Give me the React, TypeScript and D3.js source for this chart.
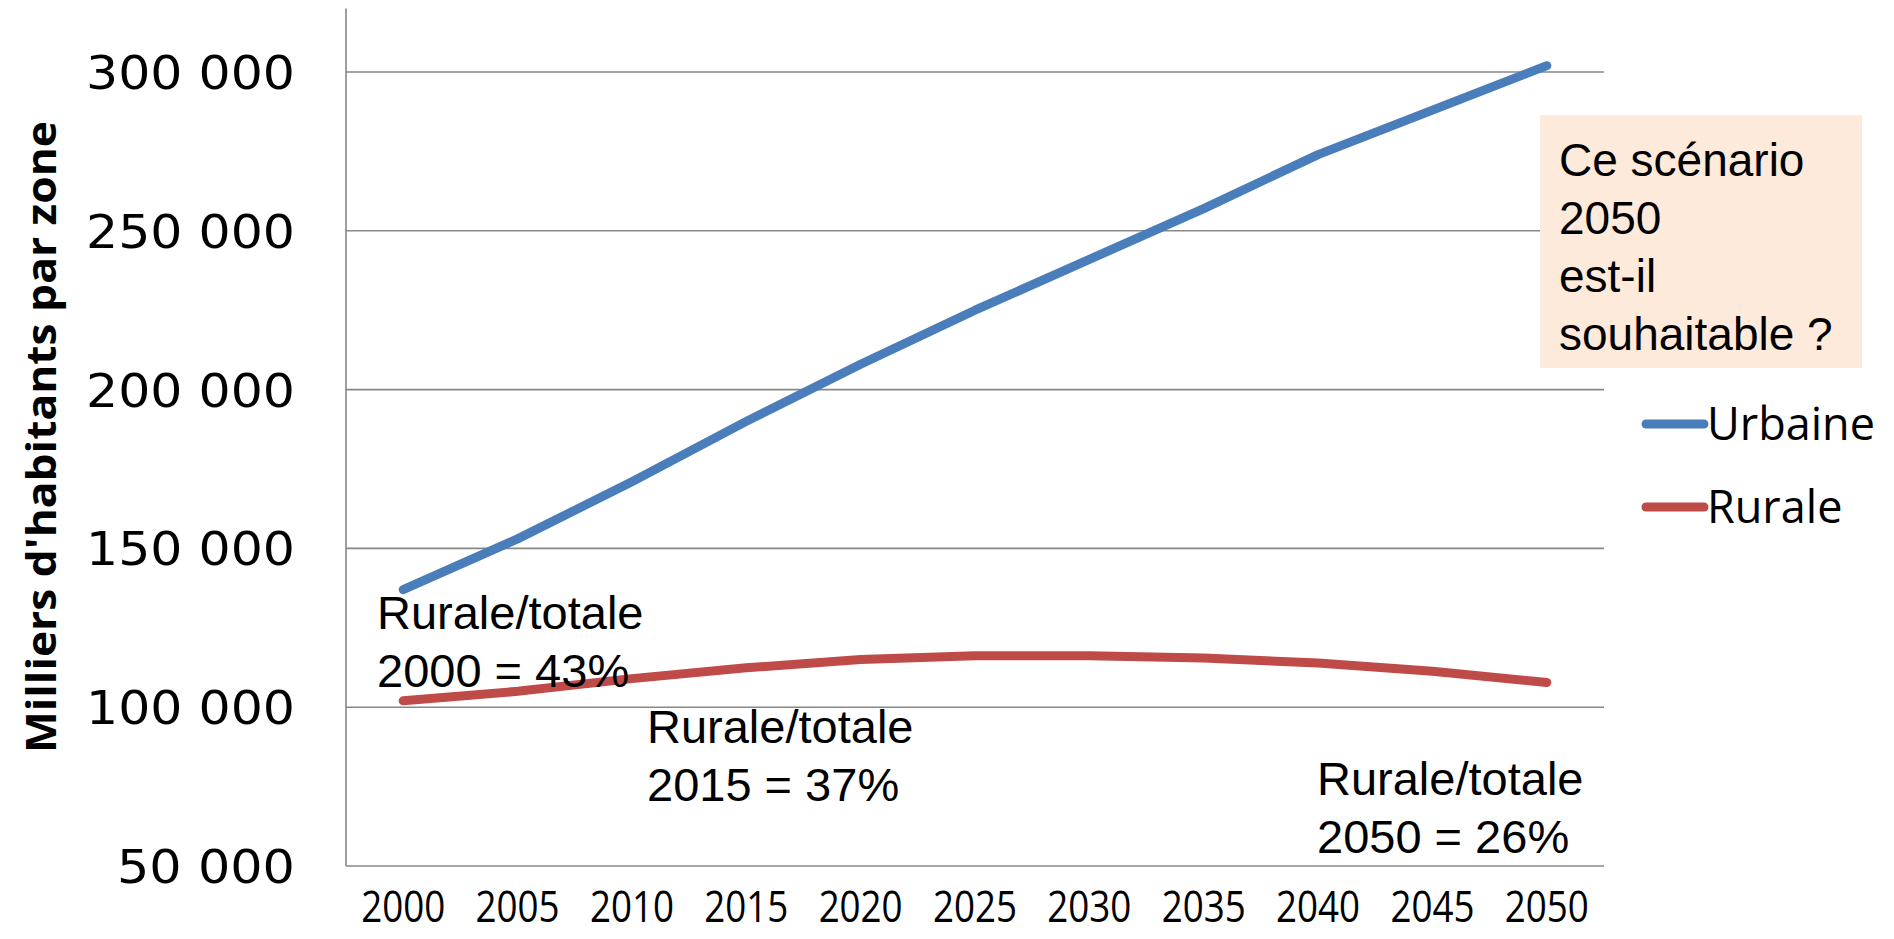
import React from "react";
import * as d3 from "d3";

const years = ["2000", "2005", "2010", "2015", "2020", "2025", "2030", "2035", "2040", "2045", "2050"];
const urbaine = [137000, 153000, 171000, 190000, 208000, 225000, 241000, 257000, 274000, 288000, 302000];
const rurale = [102000, 105000, 109000, 112400, 115000, 116200, 116200, 115500, 113900, 111300, 107800];
const yTicks = [50000, 100000, 150000, 200000, 250000, 300000];
const yDomain = [50000, 320000];

const series = [
  { name: "Urbaine", values: urbaine, color: "#4A7EBB" },
  { name: "Rurale", values: rurale, color: "#BE4B48" },
];

const notes = [
  { lines: ["Rurale/totale", "2000 = 43%"], x: 377, y: 629 },
  { lines: ["Rurale/totale", "2015 = 37%"], x: 647, y: 743 },
  { lines: ["Rurale/totale", "2050 = 26%"], x: 1317, y: 795 },
];

const boxLines = ["Ce scénario", "2050", "est-il", "souhaitable ?"];

export default function App() {
  const W = 1894, H = 939;
  const left = 346, right = 1604, top = 8.5, bottom = 866;
  const x = d3.scaleBand().domain(years).range([left, right]).paddingInner(0).paddingOuter(0);
  const y = d3.scaleLinear().domain(yDomain).range([bottom, top]);
  const cx = (d: string) => (x(d) as number) + x.bandwidth() / 2;
  const line = d3
    .line<number>()
    .x((_, i) => cx(years[i]))
    .y((v) => y(v));
  const fmt = (v: number) => d3.format(",")(v).replace(/,/g, " ");
  const armFont = "'Liberation Sans', Arial, sans-serif";
  const sansFont = "'Open Sans', sans-serif";

  return (
    <svg width={W} height={H} style={{ position: "absolute", left: 0, top: 0, background: "#fff" }}>
      {yTicks.map((t) => (
        <line key={t} x1={left} x2={right} y1={y(t)} y2={y(t)} stroke="#878787" strokeWidth={1.6} />
      ))}
      <line x1={left} x2={left} y1={top} y2={bottom} stroke="#878787" strokeWidth={1.6} />
      {yTicks.map((t) => {
        const s = fmt(t);
        return (
          <text
            key={t}
            x={295}
            y={y(t)}
            dy="0.36em"
            textAnchor="end"
            fontFamily="'DejaVu Sans', sans-serif"
            fontSize={47}
            textLength={s.length === 7 ? 209 : 178}
            lengthAdjust="spacingAndGlyphs"
            fill="#000"
          >
            {s}
          </text>
        );
      })}
      {years.map((yr) => (
        <text
          key={yr}
          x={cx(yr) - 42}
          y={922}
          fontFamily={sansFont}
          fontSize={43}
          textLength={84}
          lengthAdjust="spacingAndGlyphs"
          fill="#000"
        >
          {yr}
        </text>
      ))}
      <text
        transform={`translate(56, 437) rotate(-90)`}
        textAnchor="middle"
        fontFamily={sansFont}
        fontWeight="bold"
        fontSize={42}
        textLength={632}
        lengthAdjust="spacingAndGlyphs"
        fill="#000"
      >
        Milliers d'habitants par zone
      </text>
      {series.map((s) => (
        <path
          key={s.name}
          d={line(s.values) as string}
          fill="none"
          stroke={s.color}
          strokeWidth={9}
          strokeLinecap="round"
          strokeLinejoin="round"
        />
      ))}
      {notes.map((n, i) => (
        <text key={i} fontFamily={armFont} fontSize={47} fill="#000">
          {n.lines.map((l, j) => (
            <tspan key={j} x={n.x} y={n.y + j * 58}>
              {l}
            </tspan>
          ))}
        </text>
      ))}
      <rect x={1540} y={115} width={322} height={253} fill="#FDEADA" />
      <text fontFamily={armFont} fontSize={46} fill="#000">
        {boxLines.map((l, j) => (
          <tspan key={j} x={1559} y={176 + j * 58}>
            {l}
          </tspan>
        ))}
      </text>
      {series.map((s, i) => (
        <g key={s.name}>
          <line
            x1={1646}
            x2={1704}
            y1={424 + i * 83}
            y2={424 + i * 83}
            stroke={s.color}
            strokeWidth={9}
            strokeLinecap="round"
          />
          <text
            x={1707}
            y={424 + i * 83}
            dy="0.36em"
            fontFamily={sansFont}
            fontSize={45}
            fill="#000"
          >
            {s.name}
          </text>
        </g>
      ))}
    </svg>
  );
}
